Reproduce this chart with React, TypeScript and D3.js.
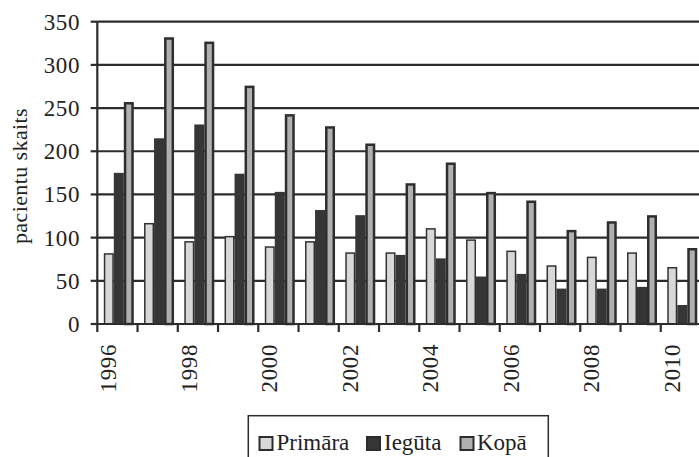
import React from "react";
import * as d3 from "d3";

const years = ["1996","1997","1998","1999","2000","2001","2002","2003","2004","2005","2006","2007","2008","2009","2010"];
const seriesNames = ["Primāra", "Iegūta", "Kopā"];
const primara = [82, 117, 96, 102, 90, 96, 83, 83, 111, 98, 85, 68, 78, 83, 66];
const ieguta = [175, 215, 231, 174, 153, 132, 126, 80, 76, 55, 58, 41, 41, 43, 22];
const kopa = [257, 332, 327, 276, 243, 229, 209, 163, 187, 153, 143, 109, 119, 126, 88];
const yTicks = [0, 50, 100, 150, 200, 250, 300, 350];
const labelYears = ["1996","1998","2000","2002","2004","2006","2008","2010"];

const W = 699;
const H = 457;
const FONT = "Liberation Serif, Times New Roman, DejaVu Serif, serif";
const INK = "#222";

const fills = ["#d8d8d8", "#363636", "#b0b0b0"];
const strokes = ["#333333", "#363636", "#2e2e2e"];
const strokeWidths = [1.5, 0, 2.5];

const textStyle = { fontFamily: FONT };

export default function App() {
  const x0 = d3.scaleBand<string>().domain(years).range([97.3, 701]).paddingInner(0).paddingOuter(0);
  const x1 = d3.scaleBand<string>().domain(seriesNames).range([6.5, 36.5]).padding(0);
  const y = d3.scaleLinear().domain([0, 350]).range([324, 21.7]);
  const values = [primara, ieguta, kopa];

  const legendItems = [
    { name: "Primāra", mx: 259.5, tx: 276.5 },
    { name: "Iegūta", mx: 367, tx: 384 },
    { name: "Kopā", mx: 460.5, tx: 477 },
  ];

  return (
    <svg width={W} height={H} style={{ position: "absolute", left: 0, top: 0, background: "#fff", fontFamily: FONT }}>
      <rect x={0} y={0} width={W} height={H} fill="#fff" />
      {/* gridlines */}
      {yTicks.filter(t => t > 0).map(t => (
        <line key={"g" + t} x1={97.3} x2={W} y1={y(t)} y2={y(t)} stroke="#2c2c2c" strokeWidth={2.2} />
      ))}
      {/* bars */}
      {years.map((yr, i) => (
        <g key={yr} transform={`translate(${x0(yr)},0)`}>
          {seriesNames.map((s, k) => {
            const v = values[k][i];
            const sw = strokeWidths[k];
            return (
              <rect
                key={s}
                x={(x1(s) as number) + sw / 2}
                y={y(v) + sw / 2}
                width={x1.bandwidth() - sw}
                height={Math.max(0, y(0) - y(v) - sw / 2)}
                fill={fills[k]}
                stroke={sw > 0 ? strokes[k] : "none"}
                strokeWidth={sw}
              />
            );
          })}
        </g>
      ))}
      {/* y axis */}
      <line x1={97.3} x2={97.3} y1={y(350)} y2={y(0)} stroke="#2c2c2c" strokeWidth={2.2} />
      {yTicks.map(t => (
        <g key={"t" + t}>
          <line x1={90.7} x2={97.3} y1={y(t)} y2={y(t)} stroke="#2c2c2c" strokeWidth={2.2} />
          <text x={80} y={y(t)} dy="0.35em" textAnchor="end" fontSize={23} letterSpacing={0.6} fill={INK} style={textStyle}>{t}</text>
        </g>
      ))}
      {/* x axis */}
      <line x1={97.3} x2={W} y1={y(0)} y2={y(0)} stroke="#2c2c2c" strokeWidth={2.2} />
      {years.map(yr => (
        <line key={"xt" + yr} x1={x0(yr)} x2={x0(yr)} y1={y(0)} y2={y(0) + 8} stroke="#2c2c2c" strokeWidth={2.2} />
      ))}
      {labelYears.map(yr => {
        const cx = (x0(yr) as number) + x0.bandwidth() / 2 - 1;
        return (
          <text key={"xl" + yr} transform={`translate(${cx},344) rotate(-90)`} textAnchor="end" fontSize={23} letterSpacing={0.6} fill={INK} style={textStyle}>{yr}</text>
        );
      })}
      {/* y axis title */}
      <text transform={`translate(27,176) rotate(-90)`} textAnchor="middle" fontSize={22} letterSpacing={0.4} fill={INK} style={textStyle}>pacientu skaits</text>
      {/* legend */}
      <rect x={248.3} y={415.7} width={300} height={60} fill="#fff" stroke="#2c2c2c" strokeWidth={1.5} />
      {legendItems.map((it, k) => (
        <g key={it.name}>
          <rect x={it.mx} y={437} width={13} height={13} fill={fills[k]} stroke="#2c2c2c" strokeWidth={2} />
          <text x={it.tx} y={450} fontSize={23} fill={INK} style={textStyle}>{it.name}</text>
        </g>
      ))}
    </svg>
  );
}
